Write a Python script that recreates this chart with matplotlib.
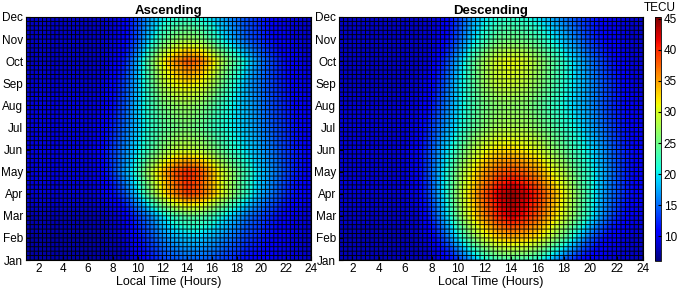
import matplotlib
matplotlib.use("Agg")
import matplotlib.pyplot as plt
import numpy as np
from matplotlib.colors import Normalize
from matplotlib.cm import ScalarMappable

plt.rcParams['font.family'] = ['Liberation Sans', 'DejaVu Sans']

months = ['Jan', 'Feb', 'Mar', 'Apr', 'May', 'Jun', 'Jul', 'Aug', 'Sep', 'Oct', 'Nov', 'Dec']
hours = np.arange(1, 25)   # local time of each column, 1..24
month_pos = np.arange(1, 13)

# TEC (TECU), rows = Jan..Dec, columns = LT 1..24
asc = np.array([
    [7.5, 7.5, 7.5, 7.5, 7.5, 7.5, 7.5, 7.5, 8, 9.5, 11.5, 13, 14, 14.5, 14.5, 14, 13, 12, 11, 10.5, 10, 9.5, 9, 8.5],
    [7.5, 7.5, 7.5, 7.5, 7.5, 7.5, 7.5, 8, 9, 11, 13.5, 16, 17.5, 18.5, 18.5, 17.5, 16, 14.5, 13, 12, 11, 10, 9, 8.5],
    [8, 8, 8, 8, 8, 8, 8, 8.5, 10, 13, 16, 19.5, 22.5, 24, 24, 22.5, 20, 17.5, 15, 13.5, 12, 10.5, 9.5, 9],
    [9, 9, 9, 9, 9, 9, 9.5, 11, 14, 19, 25, 31, 36, 39, 38, 34, 29.5, 25, 21, 17.5, 15, 12.5, 11, 10],
    [9.5, 9.5, 9.5, 9.5, 9.5, 9.5, 10, 13, 17, 22, 28, 33.5, 38, 40, 38.5, 34, 29, 25, 21.5, 18.5, 16, 13.5, 11.5, 10.5],
    [9.5, 9.5, 9.5, 9.5, 9.5, 9.5, 10.5, 13, 16, 19.5, 23, 26, 28.5, 29, 28, 26, 23.5, 21, 19, 17, 15, 13, 11.5, 10.5],
    [9.5, 9.5, 9.5, 9.5, 9.5, 9.5, 10, 12, 15, 18.5, 21.5, 23.5, 25, 25.5, 24.5, 22.5, 21, 19.5, 18, 16, 14, 12.5, 11, 10],
    [9.5, 9.5, 9.5, 9.5, 9.5, 9.5, 9.5, 11, 14, 18.5, 22, 25, 26.5, 27, 26, 24, 21.5, 19.5, 17.5, 15.5, 13.5, 12, 10.5, 10],
    [9, 9, 9, 9, 9, 9, 9, 10.5, 13.5, 18, 23, 28, 31, 32, 31, 28, 24, 20.5, 17, 15, 13, 11.5, 10, 9.5],
    [8.5, 8.5, 8.5, 8.5, 8.5, 8.5, 8.5, 9.5, 12, 17.5, 24.5, 31, 35.5, 38, 37, 32.5, 27, 23, 19, 15.5, 13, 11, 10, 9],
    [8.5, 8.5, 8.5, 8.5, 8.5, 8.5, 8.5, 9, 10.5, 14, 19, 23.5, 26, 27, 26, 23, 19.5, 16.5, 14, 12.5, 11, 10, 9, 8.5],
    [8.5, 8.5, 8.5, 8.5, 8.5, 8.5, 8.5, 9, 10.5, 13.5, 17, 19.5, 21, 21.5, 20.5, 19, 17, 15, 13.5, 12, 10.5, 9.5, 9, 8.5],
])

desc = np.array([
    [8, 8, 8, 8, 8, 8, 8, 8.5, 10, 12.5, 16.5, 20.5, 22.5, 23, 22.5, 21, 17.5, 14, 11.5, 10, 9.5, 9, 8.5, 8],
    [8, 8, 8, 8, 8, 8, 8.5, 10, 14, 19.5, 25, 29.5, 32.5, 34, 33.5, 31.5, 28, 24, 19, 14.5, 11.5, 10, 9, 8.5],
    [8.5, 8.5, 8.5, 8.5, 8.5, 8.5, 9, 12.5, 18, 25, 31, 36, 40, 42.5, 41, 38, 34, 29.5, 25, 20.5, 16, 12.5, 10.5, 9.5],
    [9, 9, 9, 9, 9, 9, 10, 14, 20, 27, 33, 38, 42, 44.5, 43, 40, 35.5, 31, 26, 21.5, 17, 14, 11.5, 10],
    [9, 9, 9, 9, 9, 9, 10.5, 14.5, 20, 26, 31, 35, 37.5, 38.5, 37.5, 35, 31.5, 28, 24, 21, 17.5, 14, 11.5, 10],
    [9, 9, 9, 9, 9, 9, 10.5, 14, 18.5, 23, 27.5, 30.5, 32, 32.5, 31.5, 30, 27, 24.5, 22, 19.5, 16.5, 13.5, 11.5, 10],
    [9, 9, 9, 9, 9, 9, 10, 13, 16.5, 20, 23.5, 26, 27.5, 28, 27.5, 26, 24, 22, 20, 17.5, 15, 12.5, 11, 10],
    [9, 9, 9, 9, 9, 9, 9.5, 11.5, 15, 19, 22.5, 25, 26, 26.5, 26, 24.5, 22.5, 20.5, 18.5, 16.5, 14, 12, 10.5, 9.5],
    [8.5, 8.5, 8.5, 8.5, 8.5, 8.5, 9, 10.5, 14, 19, 23, 27, 29, 29.5, 28.5, 26.5, 24, 21.5, 19, 16.5, 14, 12, 10, 9],
    [8.5, 8.5, 8.5, 8.5, 8.5, 8.5, 8.5, 9.5, 12.5, 17.5, 23, 27.5, 30, 31, 30, 27.5, 24.5, 21.5, 18.5, 15.5, 13, 11, 9.5, 9],
    [8.5, 8.5, 8.5, 8.5, 8.5, 8.5, 8.5, 9, 10.5, 14, 18.5, 22, 24.5, 25, 24.5, 23, 20.5, 18, 15.5, 13, 11, 10, 9, 8.5],
    [8.5, 8.5, 8.5, 8.5, 8.5, 8.5, 8.5, 9, 10, 13, 16.5, 19.5, 21, 21.5, 21, 19.5, 17.5, 15.5, 13.5, 12, 10.5, 9.5, 9, 8.5],
])

vmin, vmax = 6, 45.3
cbar_ticks = [10, 15, 20, 25, 30, 35, 40, 45]
norm = Normalize(vmin, vmax)

fig = plt.figure(figsize=(6.79, 2.93), dpi=100)
ax1 = fig.add_axes([0.0383, 0.1126, 0.4197, 0.8294])
ax2 = fig.add_axes([0.4993, 0.1126, 0.4477, 0.8294])
cax = fig.add_axes([0.9647, 0.1092, 0.0088, 0.8328])

# cell boundaries of the bin grid (1/3 h x 1/5 month)
xedges = np.arange(1, 24.01, 1 / 3)
yedges = np.arange(1, 12.01, 0.2)
levels = np.linspace(vmin, vmax, 120)

for ax, data, title in [(ax1, asc, 'Ascending'), (ax2, desc, 'Descending')]:
    ax.contourf(hours, month_pos, data, levels=levels, cmap='jet', norm=norm,
                antialiased=False)
    ax.vlines(xedges, 1, 12, colors='k', linewidth=0.65, snap=False)
    ax.hlines(yedges, 1, 24, colors='k', linewidth=0.65, snap=False)
    ax.set_xlim(1, 24)
    ax.set_ylim(1, 12)
    ax.set_xticks(np.arange(2, 25, 2))
    ax.set_yticks(month_pos)
    ax.set_yticklabels(months)
    ax.tick_params(direction='in', length=3, labelsize=8.5, pad=2)
    ax.set_xlabel('Local Time (Hours)', fontsize=9, labelpad=1)
    ax.set_title(title, fontsize=9.5, fontweight='bold', pad=2)
    for s in ax.spines.values():
        s.set_linewidth(0.8)

cb = fig.colorbar(ScalarMappable(norm=norm, cmap='jet'), cax=cax, ticks=cbar_ticks)
cb.outline.set_linewidth(0.6)
cax.tick_params(direction='in', length=2, labelsize=8.5, pad=2)
fig.text(0.972, 0.972, 'TECU', ha='center', va='center', fontsize=8.5)

fig.savefig('out.png', dpi=100)
